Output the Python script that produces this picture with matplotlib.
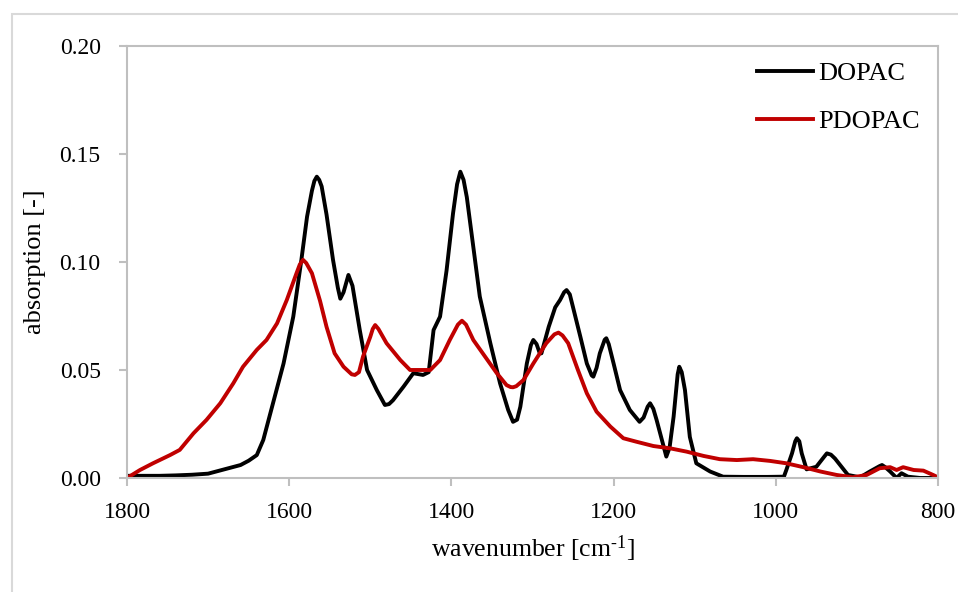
import matplotlib.pyplot as plt
from matplotlib.patches import Rectangle

plt.rcParams['font.family'] = ['Liberation Serif', 'DejaVu Serif']
plt.rcParams['mathtext.fontset'] = 'custom'
plt.rcParams['mathtext.rm'] = 'Liberation Serif'
plt.rcParams['mathtext.default'] = 'regular'

# DOPAC spectrum (wavenumber, absorption)
dopac_wn = [1800, 1780, 1760, 1740, 1720, 1700, 1680, 1660, 1650, 1640, 1632, 1620,
            1607, 1595, 1585, 1578, 1572, 1569, 1566, 1563, 1560, 1554, 1546, 1540, 1537, 1533,
            1527, 1522, 1513, 1504, 1492, 1482, 1477, 1472, 1459, 1447, 1435, 1428, 1422, 1414,
            1406, 1398, 1393, 1389, 1385, 1381, 1373, 1365, 1352, 1340, 1330, 1324, 1319, 1315,
            1307, 1302, 1299, 1295, 1291, 1289, 1280, 1272, 1266, 1261, 1258, 1254, 1250, 1241,
            1233, 1227, 1225, 1221, 1217, 1211, 1209, 1206, 1200, 1192, 1180, 1168, 1163, 1158,
            1155, 1151, 1147, 1135, 1131, 1126, 1121, 1119, 1116, 1112, 1106, 1098, 1081,
            1065, 1040, 1010, 990, 987, 980, 976, 974, 971, 968, 962, 950, 940, 937, 932, 927,
            919, 911, 896, 884, 872, 869, 865, 859, 851, 845, 837, 822, 800]
dopac_abs = [0.001, 0.001, 0.001, 0.0012, 0.0015, 0.002, 0.004, 0.006, 0.008, 0.0106, 0.0176, 0.0346,
             0.053, 0.0747, 0.101, 0.121, 0.133, 0.1375, 0.1395, 0.138, 0.135, 0.122, 0.101, 0.088, 0.083, 0.086,
             0.094, 0.089, 0.0685, 0.05, 0.0407, 0.0338, 0.0342, 0.036, 0.0423, 0.0485, 0.0477, 0.049, 0.0685, 0.0747,
             0.096, 0.1225, 0.136, 0.1418, 0.138, 0.130, 0.107, 0.084, 0.0624, 0.0438, 0.0315, 0.026, 0.027, 0.033,
             0.053, 0.0615, 0.0639, 0.062, 0.0577, 0.0577, 0.070, 0.079, 0.0824, 0.086, 0.087, 0.085, 0.079, 0.0654,
             0.053, 0.0475, 0.0469, 0.051, 0.0577, 0.0640, 0.0647, 0.062, 0.053, 0.0407, 0.0315, 0.026, 0.028, 0.033,
             0.0346, 0.032, 0.0269, 0.0099, 0.014, 0.0284, 0.048, 0.0515, 0.049, 0.0407, 0.019, 0.0068, 0.003,
             0.0006, 0.0005, 0.0005, 0.0006, 0.0037, 0.0114, 0.017, 0.0184, 0.017, 0.0114, 0.004, 0.0052, 0.010, 0.0114, 0.0108, 0.009,
             0.0052, 0.0014, 0.0003, 0.003, 0.0055, 0.006, 0.005, 0.003, 0.0, 0.0022, 0.0006, 0.0, 0.0]

# PDOPAC spectrum
pdopac_wn = [1800, 1784, 1768, 1747, 1735, 1718, 1702, 1685, 1669, 1657, 1640, 1628,
             1615, 1603, 1591, 1587, 1583, 1579, 1572, 1562, 1554, 1544, 1533, 1523, 1519, 1514,
             1509, 1500, 1497, 1494, 1490, 1480, 1463, 1451, 1439, 1426, 1414, 1402, 1392, 1387,
             1382, 1373, 1357, 1344, 1332, 1327, 1324, 1320, 1311, 1299, 1283, 1273, 1268, 1263,
             1256, 1244, 1233, 1221, 1204, 1188, 1172, 1151, 1130, 1110, 1089, 1069, 1048, 1028,
             1007, 987, 966, 945, 925, 905, 888, 872, 859, 851, 843, 830, 818, 806, 800]
pdopac_abs = [0.0, 0.0037, 0.0068, 0.0106, 0.013, 0.0207, 0.0269, 0.0346, 0.0438, 0.0515, 0.0593, 0.0639,
              0.0716, 0.0824, 0.0948, 0.0988, 0.101, 0.0995, 0.0948, 0.082, 0.0700, 0.0577, 0.0515, 0.048, 0.0477, 0.049,
              0.0562, 0.0654, 0.069, 0.0708, 0.069, 0.0624, 0.0546, 0.050, 0.050, 0.050, 0.0546, 0.0639, 0.071, 0.0728,
              0.071, 0.0639, 0.0554, 0.0485, 0.043, 0.0421, 0.042, 0.0425, 0.0454, 0.053, 0.0624, 0.0665, 0.0673, 0.066,
              0.0624, 0.050, 0.0392, 0.0307, 0.0238, 0.0184, 0.0168, 0.0148, 0.0137, 0.0122, 0.0102, 0.0087, 0.0083, 0.0087,
              0.0079, 0.0068, 0.005, 0.003, 0.0014, 0.0003, 0.0014, 0.0045, 0.005, 0.0037, 0.005, 0.0037, 0.0034, 0.0014, 0.0003]

fig = plt.figure(figsize=(9.58, 5.92), dpi=100)
ax = fig.add_axes([0.1326, 0.1926, 0.8465, 0.7297])

ax.plot(dopac_wn, dopac_abs, color='black', lw=2.8, label='DOPAC')
ax.plot(pdopac_wn, pdopac_abs, color='#c00000', lw=2.8, label='PDOPAC')

ax.set_xlim(1800, 800)
ax.set_ylim(0, 0.20)
ax.set_xticks([1800, 1600, 1400, 1200, 1000, 800])
ax.set_yticks([0.0, 0.05, 0.10, 0.15, 0.20])
ax.set_yticklabels(['0.00', '0.05', '0.10', '0.15', '0.20'])

for s in ax.spines.values():
    s.set_color('#bfbfbf')
    s.set_linewidth(1.5)
ax.tick_params(colors='#bfbfbf', width=1.5, length=6, labelcolor='black', labelsize=17)
ax.tick_params(axis='x', pad=11)
ax.tick_params(axis='y', pad=13)

ax.set_xlabel(r'wavenumber [cm$^{\text{-1}}$]', fontsize=18.5, labelpad=8)
ax.set_ylabel('absorption [-]', fontsize=19, labelpad=10)

leg = ax.legend(loc='upper right', frameon=False, fontsize=19, handlelength=2.1,
                labelspacing=0.95, handletextpad=0.2, borderaxespad=0.3,
                bbox_to_anchor=(1.0, 1.007))

fig.patches.append(Rectangle((12 / 958, -0.1), 1.2, (592 - 14) / 592 + 0.1,
                             transform=fig.transFigure, fill=False,
                             edgecolor='#d9d9d9', lw=1.5))

fig.savefig('out.png', dpi=100)
